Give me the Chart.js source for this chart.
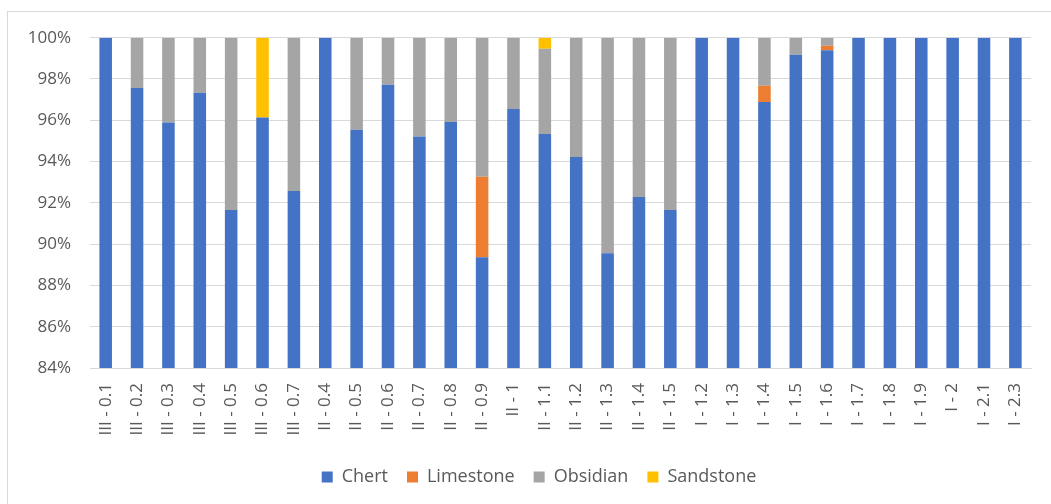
<!DOCTYPE html>
<html>
<head>
<meta charset="utf-8">
<script src="https://cdn.jsdelivr.net/npm/chart.js@4/dist/chart.umd.min.js"></script>
<style>
  html, body { margin: 0; padding: 0; background: #fff; overflow: hidden; }
  #wrap { position: relative; width: 1051px; height: 504px; }
</style>
</head>
<body>
<div id="wrap"><canvas id="c" width="1051" height="504"></canvas></div>
<script>
// Sample groups along the x axis
const categories = [
  'III - 0.1', 'III - 0.2', 'III - 0.3', 'III - 0.4', 'III - 0.5', 'III - 0.6', 'III - 0.7',
  'II - 0.4', 'II - 0.5', 'II - 0.6', 'II - 0.7', 'II - 0.8', 'II - 0.9', 'II - 1',
  'II - 1.1', 'II - 1.2', 'II - 1.3', 'II - 1.4', 'II - 1.5',
  'I - 1.2', 'I - 1.3', 'I - 1.4', 'I - 1.5', 'I - 1.6', 'I - 1.7', 'I - 1.8', 'I - 1.9',
  'I - 2', 'I - 2.1', 'I - 2.3'
];

// Raw material shares (%) per sample
const chert = [
  100, 97.56, 95.89, 97.33, 91.65, 96.13, 92.57,
  100, 95.54, 97.72, 95.21, 95.92, 89.37, 96.55,
  95.33, 94.22, 89.56, 92.28, 91.65,
  100, 100, 96.89, 99.17, 99.39, 100, 100, 100,
  100, 100, 100
];
const limestone = [
  0, 0, 0, 0, 0, 0, 0,
  0, 0, 0, 0, 0, 3.90, 0,
  0, 0, 0, 0, 0,
  0, 0, 0.78, 0, 0.22, 0, 0, 0,
  0, 0, 0
];
const obsidian = [
  0, 2.44, 4.11, 2.67, 8.35, 0, 7.43,
  0, 4.46, 2.28, 4.79, 4.08, 6.73, 3.45,
  4.14, 5.78, 10.44, 7.72, 8.35,
  0, 0, 2.33, 0.83, 0.39, 0, 0, 0,
  0, 0, 0
];
const sandstone = [
  0, 0, 0, 0, 0, 3.87, 0,
  0, 0, 0, 0, 0, 0, 0,
  0.53, 0, 0, 0, 0,
  0, 0, 0, 0, 0, 0, 0, 0,
  0, 0, 0
];

const yTicks = { min: 84, max: 100, step: 2 };

const textColor = '#595959';
const gridColor = '#d9d9d9';
const fontFamily = '"Open Sans", "Noto Sans", sans-serif';

// Thin outer frame around the whole chart
const framePlugin = {
  id: 'frame',
  beforeDraw(chart) {
    const ctx = chart.ctx;
    ctx.save();
    ctx.fillStyle = '#ffffff';
    ctx.fillRect(0, 0, chart.width, chart.height);
    ctx.strokeStyle = gridColor;
    ctx.lineWidth = 1;
    ctx.strokeRect(7.5, 11.5, chart.width + 20, chart.height + 20);
    ctx.restore();
  }
};

// Centre the legend under the framed area rather than the whole canvas
const legendShift = {
  id: 'legendShift',
  afterLayout(chart) {
    const lg = chart.legend;
    if (lg) { lg.left += 20; lg.right += 20; }
  }
};

function ds(label, data, color) {
  return {
    label,
    data,
    backgroundColor: color,
    borderWidth: 0,
    categoryPercentage: 1,
    barPercentage: 0.4
  };
}

new Chart(document.getElementById('c'), {
  type: 'bar',
  data: {
    labels: categories,
    datasets: [
      ds('Chert', chert, '#4472C4'),
      ds('Limestone', limestone, '#ED7D31'),
      ds('Obsidian', obsidian, '#A5A5A5'),
      ds('Sandstone', sandstone, '#FFC000')
    ]
  },
  options: {
    responsive: false,
    animation: false,
    layout: { padding: { top: 37.7, right: 13, left: 0, bottom: 8 } },
    plugins: {
      legend: {
        position: 'bottom',
        labels: {
          color: textColor,
          font: { family: fontFamily, size: 18 },
          boxWidth: 11,
          boxHeight: 11,
          padding: 19
        }
      },
      tooltip: { enabled: false }
    },
    scales: {
      x: {
        stacked: true,
        grid: { display: false, drawTicks: false },
        border: { color: gridColor, width: 1 },
        ticks: {
          color: textColor,
          font: { family: fontFamily, size: 17 },
          minRotation: 90,
          maxRotation: 90,
          autoSkip: false,
          padding: 15
        },
        afterFit(scale) { scale.height = 81; }
      },
      y: {
        stacked: true,
        min: yTicks.min,
        max: yTicks.max,
        grid: { color: gridColor, lineWidth: 1, drawTicks: false },
        border: { display: false },
        ticks: {
          stepSize: yTicks.step,
          color: textColor,
          font: { family: fontFamily, size: 17 },
          padding: 19,
          callback: v => v + '%'
        },
        afterFit(scale) { scale.width = 90; }
      }
    }
  },
  plugins: [framePlugin, legendShift]
});
</script>
</body>
</html>
